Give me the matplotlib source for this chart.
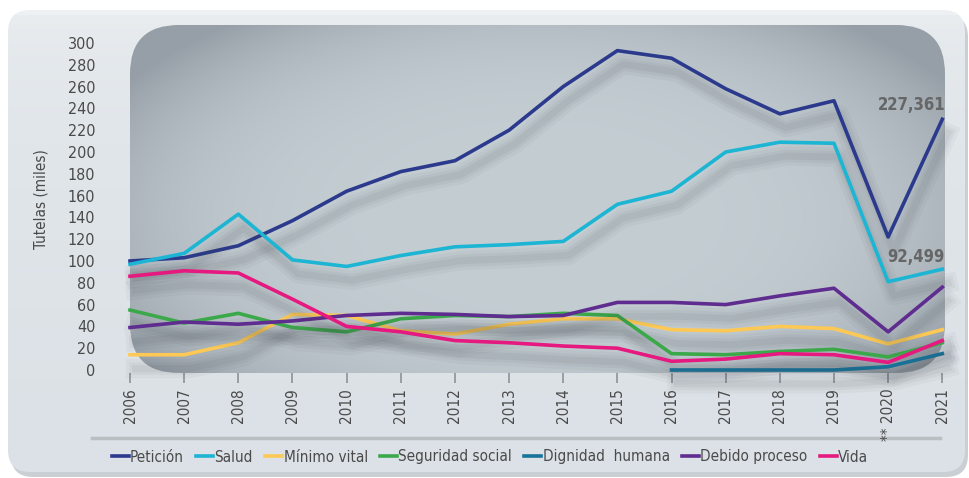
import numpy as np
import matplotlib.pyplot as plt
import matplotlib.patheffects as pe
from matplotlib.patches import FancyBboxPatch

years = list(range(2006, 2022))
year_labels = [str(y) for y in years]
year_labels[years.index(2020)] = "** 2020"

peticion = [100, 103, 114, 137, 164, 182, 192, 220, 260, 293, 286, 258, 235, 247, 122, 230]
salud = [97, 107, 143, 101, 95, 105, 113, 115, 118, 152, 164, 200, 209, 208, 81, 92.5]
minimo_vital = [14, 14, 25, 51, 50, 36, 33, 42, 47, 47, 37, 36, 40, 38, 24, 37]
seguridad_social = [55, 43, 52, 39, 35, 47, 50, 49, 52, 50, 15, 14, 17, 19, 12, 25]
dignidad_years = [2016, 2017, 2018, 2019, 2020, 2021]
dignidad_humana = [0, 0, 0, 0, 3, 15]
debido_proceso = [39, 44, 42, 45, 50, 52, 51, 49, 50, 62, 62, 60, 68, 75, 35, 76]
vida = [86, 91, 89, 65, 40, 35, 27, 25, 22, 20, 8, 10, 15, 14, 7, 27]

series = [
    ("Petición", years, peticion, "#2b3a8c"),
    ("Salud", years, salud, "#1cb5d3"),
    ("Mínimo vital", years, minimo_vital, "#fdc954"),
    ("Seguridad social", years, seguridad_social, "#3ba84a"),
    ("Dignidad  humana", dignidad_years, dignidad_humana, "#17739a"),
    ("Debido proceso", years, debido_proceso, "#5f2c8f"),
    ("Vida", years, vida, "#e5197f"),
]

plt.rcParams["font.family"] = ["DejaVu Sans"]
plt.rcParams["font.stretch"] = "condensed"
text_color = "#4a4a4a"

fig = plt.figure(figsize=(9.7, 4.78), dpi=100)

# background in pixel units
bg = fig.add_axes([0, 0, 1, 1])
bg.set_xlim(0, 970)
bg.set_ylim(478, 0)
bg.axis("off")
bg.add_patch(FancyBboxPatch((11, 15), 957, 462, boxstyle="round,pad=0,rounding_size=22",
                            fc="#b4bbc1", ec="none", alpha=0.7, zorder=0.5))
panel = FancyBboxPatch((8, 10), 957, 462, boxstyle="round,pad=0,rounding_size=22",
                       fc="none", ec="none")
bg.add_patch(panel)
pg = np.linspace(0, 1, 100)[:, None] * np.ones((1, 10))
top_c = np.array([0xee, 0xf1, 0xf3]) / 255
bot_c = np.array([0xdb, 0xe1, 0xe6]) / 255
pimg = top_c[None, None, :] * (1 - pg[..., None] ** 0.3) + bot_c[None, None, :] * pg[..., None] ** 0.3
pim = bg.imshow(pimg, extent=[8, 965, 472, 10], aspect="auto", zorder=1)
pim.set_clip_path(panel)
bg.plot([92, 940], [438, 438], color="#b9bec3", lw=2.5, zorder=2)

ax = fig.add_axes([130 / 970, 1 - 373 / 478, 815 / 970, 348 / 478])
ax.set_xlim(2006, 2021.05)
ax.set_ylim(-2.75, 316.5)
ax.patch.set_visible(False)
for s in ax.spines.values():
    s.set_visible(False)

# rounded plot area with vignette gradient
frame = FancyBboxPatch((0, 0), 1, 1, boxstyle="round,pad=0,rounding_size=0.06",
                       transform=ax.transAxes, fc="none", ec="none",
                       mutation_aspect=815 / 348)
ax.add_patch(frame)
gx, gy = np.meshgrid(np.linspace(0, 1, 300), np.linspace(0, 1, 200))
r = np.sqrt(((gx - 0.5) / 0.6) ** 2 + ((gy - 0.45) / 0.72) ** 2)
t = np.clip(r, 0, 1) ** 4
light = np.array([0xc4, 0xcd, 0xd2]) / 255
dark = np.array([0x96, 0x9f, 0xa7]) / 255
img = light[None, None, :] * (1 - t[..., None]) + dark[None, None, :] * t[..., None]
im = ax.imshow(img, extent=[0, 1, 0, 1], origin="lower", transform=ax.transAxes,
               aspect="auto", zorder=0, interpolation="bilinear")
im.set_clip_path(frame)

shadow = [
    pe.SimpleLineShadow(offset=(4, -10), shadow_color="#3a4048", alpha=0.04, linewidth=14),
    pe.SimpleLineShadow(offset=(4, -10), shadow_color="#3a4048", alpha=0.05, linewidth=9),
    pe.SimpleLineShadow(offset=(4, -10), shadow_color="#3a4048", alpha=0.06, linewidth=5),
    pe.Normal(),
]

for name, xs, ys, color in series:
    ax.plot(xs, ys, color=color, lw=2.6, label=name, zorder=3,
            path_effects=shadow, clip_on=False)

ax.text(2021.05, 243, "227,361", ha="right", va="center", fontsize=12,
        fontweight="bold", color="#666666")
ax.text(2021.05, 104, "92,499", ha="right", va="center", fontsize=12,
        fontweight="bold", color="#666666")

ax.set_yticks(range(0, 301, 20))
ax.tick_params(axis="y", length=0, pad=25, labelsize=11.5, labelcolor=text_color)
ax.set_xticks(years)
ax.set_xticklabels(year_labels, rotation=90)
ax.tick_params(axis="x", length=7, width=1.2, color="#8c9298", pad=4,
               labelsize=11, labelcolor=text_color)
ax.set_ylabel("Tutelas (miles)", fontsize=11, color=text_color)
ax.yaxis.set_label_coords(-0.1, 0.5)

handles, labels = ax.get_legend_handles_labels()
leg = fig.legend(handles, labels, loc="center", bbox_to_anchor=(490 / 970, 1 - 457 / 478),
                 ncol=7, frameon=False, fontsize=11, handlelength=1.1,
                 handletextpad=0.1, columnspacing=0.8, labelcolor=text_color)
for h in leg.get_lines():
    h.set_path_effects([])
    h.set_linewidth(2.6)

fig.savefig("out.png", dpi=100)
